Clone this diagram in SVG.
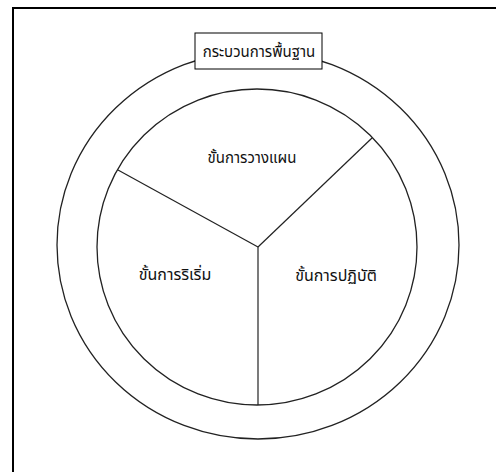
<svg xmlns="http://www.w3.org/2000/svg" width="496" height="472" viewBox="0 0 496 472">
<style>
.frame{stroke:#000;stroke-width:2;fill:none}
.ring{fill:none;stroke:#222;stroke-width:1.3}
.spoke{stroke:#222;stroke-width:1.2;fill:none}
.box{fill:#fff;stroke:#000;stroke-width:1}
.t{font-family:"Noto Sans Thai","Noto Sans","Liberation Sans",sans-serif;font-size:15px;fill:#111;text-anchor:middle}
.big{font-size:16px}
</style>
<rect width="496" height="472" fill="#fff"/>
<g id="frame">
<line class="frame" x1="13" y1="8" x2="496" y2="8"/>
<line class="frame" x1="13" y1="7" x2="13" y2="472"/>
</g>
<g id="outer-ring">
<ellipse class="ring" cx="258" cy="245" rx="201" ry="194"/>
</g>
<g id="inner-circle">
<ellipse class="ring" cx="257" cy="247" rx="160" ry="158"/>
</g>
<g id="connectors">
<line class="spoke" x1="258" y1="247" x2="118" y2="170"/>
<line class="spoke" x1="258" y1="247" x2="372" y2="138"/>
<line class="spoke" x1="258" y1="247" x2="258" y2="405"/>
</g>
<g id="title">
<rect class="box" x="195" y="33" width="127" height="36"/>
<text class="t" x="259" y="57">กระบวนการพื้นฐาน</text>
</g>
<g id="planning">
<text class="t" x="252" y="163">ขั้นการวางแผน</text>
</g>
<g id="initiation">
<text class="t big" x="175" y="280">ขั้นการริเริ่ม</text>
</g>
<g id="implementation">
<text class="t big" x="336" y="281">ขั้นการปฏิบัติ</text>
</g>
</svg>
